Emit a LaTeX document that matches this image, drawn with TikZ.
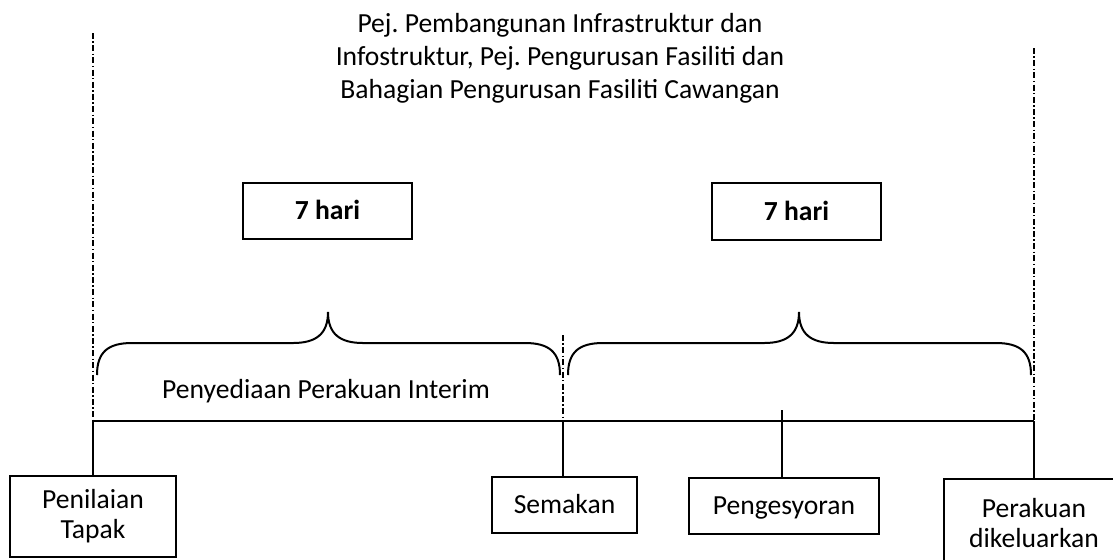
\documentclass[tikz,border=0pt]{standalone}
\usepackage{fontspec}
\setmainfont{Carlito}
\frenchspacing
\begin{document}
\begin{tikzpicture}[x=0.5pt,y=-0.5pt,
  every node/.style={font=\fontsize{13.8}{16.5}\selectfont},
  boxnode/.style={draw,line width=1pt,inner sep=0pt,align=center},
  onetext/.style={text height=8.9pt,text depth=0pt},
  dashdotline/.style={line width=1pt,dash pattern=on 3pt off 1.2pt on 0.7pt off 1.2pt},
  solidline/.style={line width=0.9pt},
  bracepath/.style={line width=1pt}]
\useasboundingbox (0,0) rectangle (1113,559);
\fill[white] (0,0) rectangle (1113,559);

% title
\node[align=center,inner sep=0pt] (title) at (560,58)
  {Pej. Pembangunan Infrastruktur dan\\Infostruktur, Pej. Pengurusan Fasiliti dan\\Bahagian Pengurusan Fasiliti Cawangan};

% 7 hari boxes
\node[boxnode,onetext,minimum width=84.5pt,minimum height=28pt,font=\fontsize{13.8}{16.5}\selectfont\bfseries] (d1) at (327.5,211) {7 hari};
\node[boxnode,onetext,minimum width=84.5pt,minimum height=28.5pt,font=\fontsize{13.8}{16.5}\selectfont\bfseries] (d2) at (796.5,211.5) {7 hari};

% bottom boxes
\node[boxnode,minimum width=83pt,minimum height=40.5pt,font=\fontsize{13.8}{15}\selectfont] (tapak) at (93,516.5) {Penilaian\\Tapak};
\node[boxnode,onetext,minimum width=72.5pt,minimum height=28pt] (semakan) at (564.5,505) {Semakan};
\node[boxnode,onetext,minimum width=95pt,minimum height=28pt] (peng) at (784,506) {Pengesyoran};
\node[boxnode,minimum width=90pt,minimum height=44pt,anchor=north,font=\fontsize{13.8}{15}\selectfont] (perakuan) at (1034,478) {Perakuan\\dikeluarkan};

% label
\node[onetext,inner sep=0pt] (interim) at (326,390) {Penyediaan Perakuan Interim};

% coordinates
\coordinate (lt) at (93,33);
\coordinate (mt) at (563,335);
\coordinate (rt) at (1034,48);
\coordinate (hl) at (93,421);
\coordinate (hm) at (563,421);
\coordinate (hr) at (1034,421);
\coordinate (pt) at (782,410);

% dash-dot vertical lines
\draw[dashdotline] (lt) -- (hl);
\draw[dashdotline] (mt) -- (hm);
\draw[dashdotline] (rt) -- (hr);

% horizontal timeline
\draw[solidline] (hl) -- (hr);

% connectors to boxes
\draw[solidline] (hl) -- (tapak.north);
\draw[solidline] (hm) -- (semakan.north -| hm);
\draw[solidline] (pt) -- (peng.north -| pt);
\draw[solidline] (hr) -- (perakuan.north);

% braces
\draw[bracepath] (97,375) .. controls (97,352) and (108,343) .. (132,343) -- (293,343)
  .. controls (316,343) and (328,334) .. (328,312)
  .. controls (328,334) and (340,343) .. (363,343) -- (525,343)
  .. controls (549,343) and (560,352) .. (560,375);
\draw[bracepath] (568,375) .. controls (568,352) and (579,343) .. (603,343) -- (764,343)
  .. controls (787,343) and (799,334) .. (799,312)
  .. controls (799,334) and (811,343) .. (834,343) -- (996,343)
  .. controls (1020,343) and (1031,352) .. (1031,375);
\end{tikzpicture}
\end{document}
